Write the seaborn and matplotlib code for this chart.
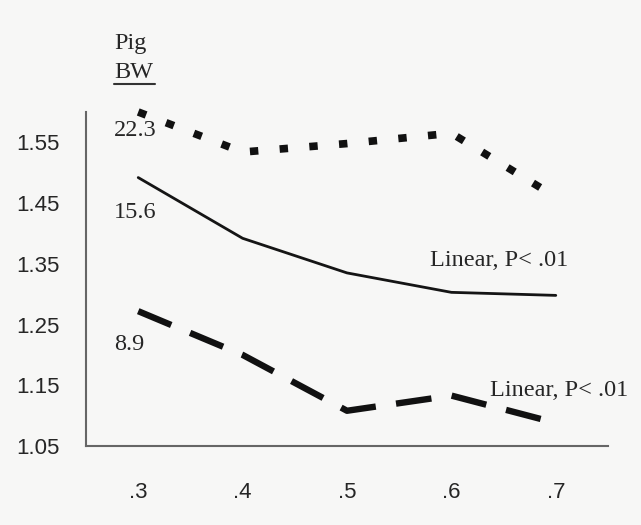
import matplotlib
matplotlib.use('Agg')
import matplotlib.pyplot as plt
import seaborn as sns
import pandas as pd
import numpy as np

# x categories (ratio) and Pig BW series
categories = ['.3', '.4', '.5', '.6', '.7']
bw_labels = ['22.3', '15.6', '8.9']
bw_22 = [1.600, 1.534, 1.548, 1.565, 1.460]
bw_15 = [1.492, 1.392, 1.335, 1.303, 1.298]
bw_8 = [1.272, 1.200, 1.108, 1.133, 1.088]
y_ticks = [1.05, 1.15, 1.25, 1.35, 1.45, 1.55]

sns.set_style('white')
plt.rcParams['font.family'] = ['Liberation Sans', 'DejaVu Sans']

fig = plt.figure(figsize=(6.41, 5.25), dpi=100, facecolor='#f7f7f6')
ax = fig.add_axes([0.1342, 0.1505, 0.8143, 0.6362])
ax.set_facecolor('#f7f7f6')

pos = np.arange(len(categories))
df = pd.DataFrame({'x': pos, 'a': bw_22, 'b': bw_15, 'c': bw_8})

sns.lineplot(data=df, x='x', y='a', ax=ax, color='#111111', lw=5.5, clip_on=False)
ax.lines[-1].set_linestyle((0, (1.1, 2.8)))
sns.lineplot(data=df, x='x', y='b', ax=ax, color='#151515', lw=2.0, clip_on=False)
sns.lineplot(data=df, x='x', y='c', ax=ax, color='#111111', lw=4.6, clip_on=False)
ax.lines[-1].set_linestyle((0, (5.6, 3.2)))

ax.set_xlim(-0.5, len(categories) - 0.5)
ax.set_ylim(1.05, 1.60)
ax.set_yticks(y_ticks)
ax.set_yticklabels([f'{v:.2f}' for v in y_ticks])
ax.set_xticks(np.arange(len(categories) + 1) - 0.5)
ax.set_xticklabels([])
ax.set_xticks(pos, minor=True)
ax.set_xticklabels(categories, minor=True)
ax.tick_params(axis='x', which='major', direction='out', length=10, width=1.5, color='#666666')
ax.tick_params(axis='x', which='minor', length=0, pad=26, labelsize=16)
ax.tick_params(axis='y', direction='out', length=7, width=1.5, color='#666666',
               labelsize=16, pad=12)
ax.set_xlabel('')
ax.set_ylabel('')
for s in ['top', 'right']:
    ax.spines[s].set_visible(False)
for s in ['left', 'bottom']:
    ax.spines[s].set_color('#666666')
    ax.spines[s].set_linewidth(1.5)

serif = ['Liberation Serif', 'DejaVu Serif']
fs = 17.5
fig.text(114 / 641, 1 - 43 / 525, 'Pig', family=serif, fontsize=fs, va='center')
fig.text(114 / 641, 1 - 72 / 525, 'BW', family=serif, fontsize=fs, va='center')
fig.lines.append(plt.Line2D([114 / 641, 155 / 641], [1 - 84 / 525, 1 - 84 / 525],
                            transform=fig.transFigure, color='#333333', lw=1.5))
for lab, yy in zip(bw_labels, [130, 212, 345]):
    fig.text(114 / 641, 1 - yy / 525, lab, family=serif, fontsize=fs, va='center')
fig.text(430 / 641, 1 - 260 / 525, 'Linear, P< .01', family=serif, fontsize=fs, va='center')
fig.text(490 / 641, 1 - 390 / 525, 'Linear, P< .01', family=serif, fontsize=fs, va='center')

fig.savefig('out.png', dpi=100, facecolor=fig.get_facecolor())
